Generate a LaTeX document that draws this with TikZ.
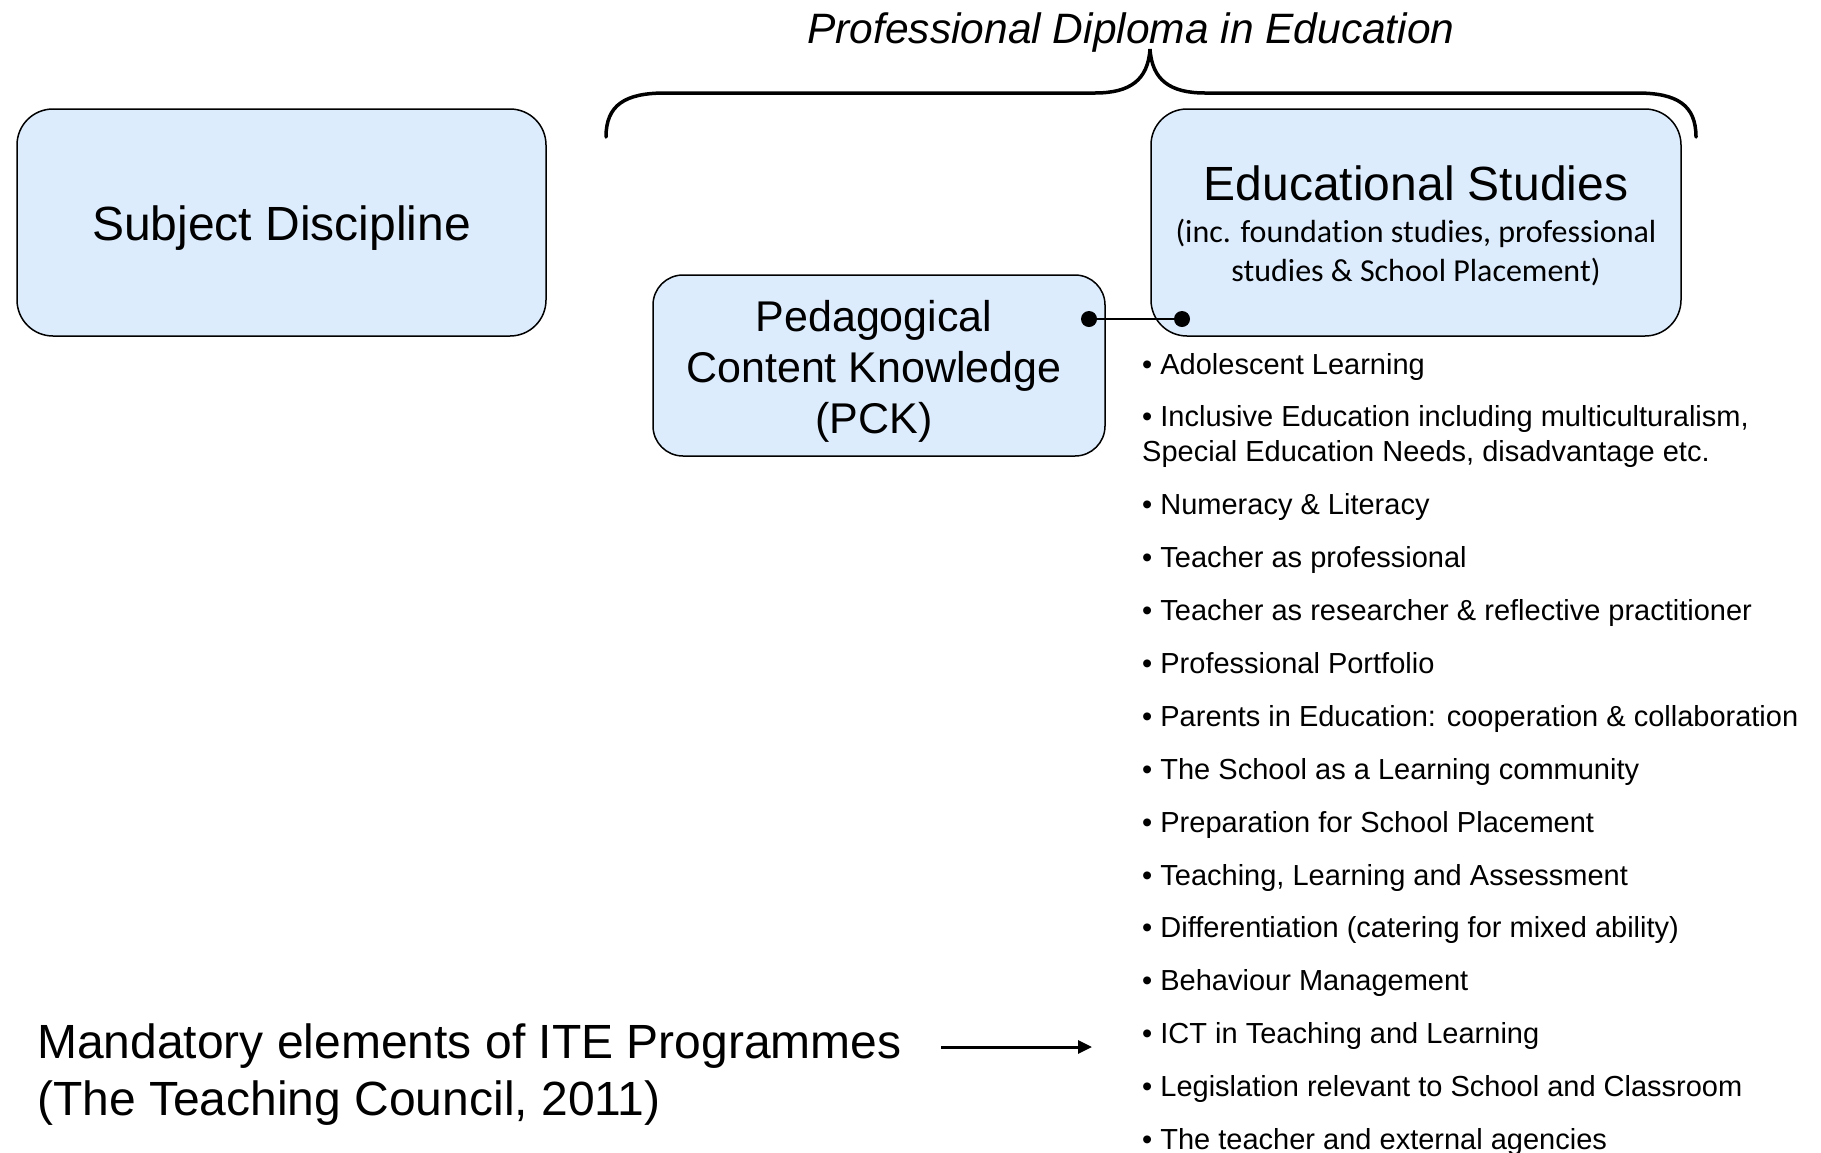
\documentclass[tikz,border=0pt]{standalone}
\usepackage{fontspec}
\setmainfont{Liberation Sans}
\newfontfamily\calfont[Ligatures=NoCommon]{Carlito}
\usetikzlibrary{arrows.meta}
\definecolor{boxblue}{RGB}{221,236,252}
\begin{document}
\begin{tikzpicture}[x=1pt,y=-1pt,
  box/.style={draw=black, line width=1.5pt, fill=boxblue, rounded corners=36pt, inner sep=0pt},
  item/.style={anchor=base west, inner sep=0pt, font=\fontsize{29}{35}\selectfont},
  big/.style={font=\fontsize{48}{57}\selectfont},
  subtxt/.style={anchor=base, inner sep=0pt, font=\calfont\fontsize{32}{39}\selectfont},
]
\fill[white] (0,0) rectangle (1821,1152);
\useasboundingbox (0,0) rectangle (1821,1152);

% title and brace
\node[anchor=base, inner sep=0pt, font=\itshape\fontsize{42.5}{50}\selectfont] (title) at (1131,43) {Professional Diploma in Education};
\draw[line width=3.5pt, line cap=round] (606,137) .. controls (606,105) and (625,93) .. (665,93) -- (1095,93) .. controls (1130,93) and (1148,80) .. (1150,49) .. controls (1152,80) and (1170,93) .. (1205,93) -- (1637,93) .. controls (1677,93) and (1696,105) .. (1696,137);

% boxes
\node[box, minimum width=529pt, minimum height=227pt] (sd) at (281.5,222.5) {};
\node[big, anchor=base, inner sep=0pt] (sdtext) at (281.5,240) {Subject Discipline};
\node[box, minimum width=530pt, minimum height=227pt] (es) at (1416,222.5) {};
\node[big, anchor=base, inner sep=0pt] (estitle) at (1416,200) {Educational Studies};
\node[subtxt] (essub1) at (1416,242) {(inc. foundation studies, professional};
\node[subtxt] (essub2) at (1416,281) {studies \& School Placement)};
\node[box, rounded corners=30pt, minimum width=452pt, minimum height=181pt] (pck) at (879,365.5) {};
\node[align=center, inner sep=0pt, font=\fontsize{43}{51}\selectfont] (pcktext) at (874,371) {Pedagogical\\Content Knowledge\\(PCK)};

% connector
\coordinate (pckdot) at (1089,319);
\coordinate (esdot) at (1182,319);
\draw[line width=1.5pt] (pckdot) -- (esdot);
\fill (pckdot) circle (8pt);
\fill (esdot) circle (8pt);

% list
\node[item] (it1) at (1142,374) {\textbullet\ Adolescent Learning};
\node[item] (it2a) at (1142,426) {\textbullet\ Inclusive Education including multiculturalism,};
\node[item] (it2b) at (1142,461) {Special Education Needs, disadvantage etc.};
\node[item] (it3) at (1142,514) {\textbullet\ Numeracy \& Literacy};
\node[item] (it4) at (1142,567) {\textbullet\ Teacher as professional};
\node[item] (it5) at (1142,620) {\textbullet\ Teacher as researcher \& reflective practitioner};
\node[item] (it6) at (1142,673) {\textbullet\ Professional Portfolio};
\node[item] (it7) at (1142,726) {\textbullet\ Parents in Education: cooperation \& collaboration};
\node[item] (it8) at (1142,779) {\textbullet\ The School as a Learning community};
\node[item] (it9) at (1142,832) {\textbullet\ Preparation for School Placement};
\node[item] (it10) at (1142,885) {\textbullet\ Teaching, Learning and Assessment};
\node[item] (it11) at (1142,937) {\textbullet\ Differentiation (catering for mixed ability)};
\node[item] (it12) at (1142,990) {\textbullet\ Behaviour Management};
\node[item] (it13) at (1142,1043) {\textbullet\ ICT in Teaching and Learning};
\node[item] (it14) at (1142,1096) {\textbullet\ Legislation relevant to School and Classroom};
\node[item] (it15) at (1142,1149) {\textbullet\ The teacher and external agencies};

% mandatory
\node[big, anchor=base west, inner sep=0pt] (mand1) at (37,1058) {Mandatory elements of ITE Programmes};
\node[big, anchor=base west, inner sep=0pt] (mand2) at (37,1115) {(The Teaching Council, 2011)};
\coordinate (arrstart) at (941,1047);
\coordinate (arrend) at (1092,1047);
\draw[line width=3pt, -{Triangle[length=14pt,width=13pt]}] (arrstart) -- (arrend);
\end{tikzpicture}
\end{document}
